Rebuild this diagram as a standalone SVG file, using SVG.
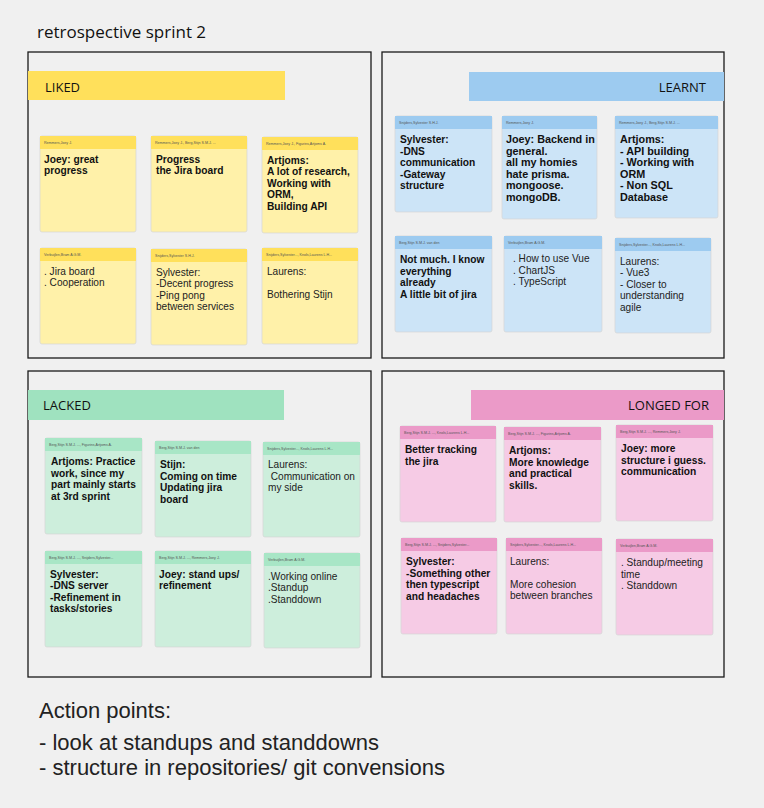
<svg xmlns="http://www.w3.org/2000/svg" width="764" height="808" viewBox="0 0 764 808">
<style>
.bg{fill:#f0f0f0}
.frame{fill:none;stroke:#1a1a1a;stroke-width:1.3}
.lbl{font-family:"Open Sans","Liberation Sans",sans-serif;font-size:13px;fill:#111}
.title{font-family:"Open Sans","Liberation Sans",sans-serif;font-size:17px;fill:#111}
.ap{font-family:"Liberation Sans",Arial,sans-serif;font-size:22px;fill:#222}
.nb{stroke:#d6d6d6;stroke-width:0.7}
.y .nb{fill:#fff1a9}.y .nh{fill:#ffe05b}
.b .nb{fill:#cce4f7}.b .nh{fill:#9dcbf0}
.g .nb{fill:#cdeedc}.g .nh{fill:#a8e6c6}
.p .nb{fill:#f6cbe5}.p .nh{fill:#eb9ac8}
.tiny{font-family:"Liberation Sans",Arial,sans-serif;font-size:3.6px;fill:#555}
.t{font-family:"Liberation Sans",Arial,sans-serif;font-size:10.2px;fill:#111;font-weight:bold}
.t.big{font-size:10.8px}
.r{font-family:"Liberation Sans",Arial,sans-serif;font-size:10.1px;fill:#222}
</style>
<rect class="bg" x="0" y="0" width="764" height="808"/>
<text class="title" x="37" y="38">retrospective sprint 2</text>

<g id="frame-liked">
<rect class="frame" x="28" y="52" width="343" height="306"/>
<rect x="28" y="71" width="257" height="29" fill="#ffe05b"/>
<text class="lbl" x="45" y="92">LIKED</text>
</g>
<g id="frame-learnt">
<rect class="frame" x="382" y="52" width="342" height="306"/>
<rect x="469" y="72" width="255" height="29" fill="#9dcbf0"/>
<text class="lbl" x="706" y="92" text-anchor="end">LEARNT</text>
</g>
<g id="frame-lacked">
<rect class="frame" x="28" y="371" width="343" height="306"/>
<rect x="28" y="390" width="256" height="30" fill="#9fe2bf"/>
<text class="lbl" x="43" y="410">LACKED</text>
</g>
<g id="frame-longed">
<rect class="frame" x="382" y="371" width="342" height="306"/>
<rect x="471" y="390" width="253" height="30" fill="#eb9ac8"/>
<text class="lbl" x="709" y="410" text-anchor="end">LONGED FOR</text>
</g>

<g id="connectors"></g>

<!-- LIKED -->
<g id="liked-1" class="y">
<rect class="nb" x="40" y="136" width="96" height="96" rx="2"/><rect class="nh" x="40" y="136" width="96" height="13"/>
<text class="tiny" x="44" y="144">Remmers,Joey J.</text>
<text class="t" x="44" y="162.5"><tspan x="44">Joey: great</tspan><tspan x="44" dy="11.5">progress</tspan></text>
</g>
<g id="liked-2" class="y">
<rect class="nb" x="151" y="136" width="96" height="96" rx="2"/><rect class="nh" x="151" y="136" width="96" height="13"/>
<text class="tiny" x="155" y="144">Remmers,Joey J.,  Berg,Stijn S.M.J. ...</text>
<text class="t" x="156" y="162.5"><tspan x="156">Progress</tspan><tspan x="156" dy="11.5">the Jira board</tspan></text>
</g>
<g id="liked-3" class="y">
<rect class="nb" x="262" y="137" width="96" height="96" rx="2"/><rect class="nh" x="262" y="137" width="96" height="13"/>
<text class="tiny" x="266" y="145">Remmers,Joey J.,  Figurins,Artjoms A.</text>
<text class="t" x="267" y="163.5"><tspan x="267">Artjoms:</tspan><tspan x="267" dy="11.5">A lot of research,</tspan><tspan x="267" dy="11.5">Working with</tspan><tspan x="267" dy="11.5">ORM,</tspan><tspan x="267" dy="11.5">Building API</tspan></text>
</g>
<g id="liked-4" class="y">
<rect class="nb" x="40" y="248" width="96" height="96" rx="2"/><rect class="nh" x="40" y="248" width="96" height="13"/>
<text class="tiny" x="44" y="256">Verbuijlen,Bram A.G.M.</text>
<text class="r" x="44" y="274.5"><tspan x="44">. Jira board</tspan><tspan x="44" dy="11.5">. Cooperation</tspan></text>
</g>
<g id="liked-5" class="y">
<rect class="nb" x="151" y="249" width="96" height="96" rx="2"/><rect class="nh" x="151" y="249" width="96" height="13"/>
<text class="tiny" x="155" y="257">Snijders,Sylvester S.H.J.</text>
<text class="r" x="156" y="275.5"><tspan x="156">Sylvester:</tspan><tspan x="156" dy="11.5">-Decent progress</tspan><tspan x="156" dy="11.5">-Ping pong</tspan><tspan x="156" dy="11.5">between services</tspan></text>
</g>
<g id="liked-6" class="y">
<rect class="nb" x="262" y="248" width="96" height="96" rx="2"/><rect class="nh" x="262" y="248" width="96" height="13"/>
<text class="tiny" x="266" y="256">Snijders,Sylvester...,  Knols,Laurens L.H...</text>
<text class="r" x="267" y="274.5"><tspan x="267">Laurens:</tspan><tspan x="267" dy="23">Bothering Stijn</tspan></text>
</g>

<!-- LEARNT -->
<g id="learnt-1" class="b">
<rect class="nb" x="395" y="116" width="97" height="96" rx="2"/><rect class="nh" x="395" y="116" width="97" height="13"/>
<text class="tiny" x="399" y="124">Snijders,Sylvester S.H.J.</text>
<text class="t" x="400" y="143"><tspan x="400">Sylvester:</tspan><tspan x="400" dy="11.5">-DNS</tspan><tspan x="400" dy="11.5">communication</tspan><tspan x="400" dy="11.5">-Gateway</tspan><tspan x="400" dy="11.5">structure</tspan></text>
</g>
<g id="learnt-2" class="b">
<rect class="nb" x="502" y="116" width="95" height="103" rx="2"/><rect class="nh" x="502" y="116" width="95" height="13"/>
<text class="tiny" x="506" y="124">Remmers,Joey J.</text>
<text class="t big" x="506" y="143"><tspan x="506">Joey: Backend in</tspan><tspan x="506" dy="11.5">general.</tspan><tspan x="506" dy="11.5">all my homies</tspan><tspan x="506" dy="11.5">hate prisma.</tspan><tspan x="506" dy="11.5">mongoose.</tspan><tspan x="506" dy="11.5">mongoDB.</tspan></text>
</g>
<g id="learnt-3" class="b">
<rect class="nb" x="615" y="116" width="103" height="102" rx="2"/><rect class="nh" x="615" y="116" width="103" height="13"/>
<text class="tiny" x="619" y="124">Remmers,Joey J.,  Berg,Stijn S.M.J. ...</text>
<text class="t big" x="620" y="143"><tspan x="620">Artjoms:</tspan><tspan x="620" dy="11.5">- API building</tspan><tspan x="620" dy="11.5">- Working with</tspan><tspan x="620" dy="11.5">ORM</tspan><tspan x="620" dy="11.5">- Non SQL</tspan><tspan x="620" dy="11.5">Database</tspan></text>
</g>
<g id="learnt-4" class="b">
<rect class="nb" x="395" y="236" width="97" height="96" rx="2"/><rect class="nh" x="395" y="236" width="97" height="13"/>
<text class="tiny" x="399" y="244">Berg,Stijn S.M.J. van den</text>
<text class="t" x="400" y="263"><tspan x="400">Not much. I know</tspan><tspan x="400" dy="11.5">everything</tspan><tspan x="400" dy="11.5">already</tspan><tspan x="400" dy="11.5">A little bit of jira</tspan></text>
</g>
<g id="learnt-5" class="b">
<rect class="nb" x="504" y="236" width="98" height="96" rx="2"/><rect class="nh" x="504" y="236" width="98" height="13"/>
<text class="tiny" x="508" y="244">Verbuijlen,Bram A.G.M.</text>
<text class="r" x="513" y="262"><tspan x="513">. How to use Vue</tspan><tspan x="513" dy="11.5">. ChartJS</tspan><tspan x="513" dy="11.5">. TypeScript</tspan></text>
</g>
<g id="learnt-6" class="b">
<rect class="nb" x="615" y="238" width="96" height="95" rx="2"/><rect class="nh" x="615" y="238" width="96" height="13"/>
<text class="tiny" x="619" y="246">Snijders,Sylvester...,  Knols,Laurens L.H...</text>
<text class="r" x="620" y="264.5"><tspan x="620">Laurens:</tspan><tspan x="620" dy="11.5">- Vue3</tspan><tspan x="620" dy="11.5">- Closer to</tspan><tspan x="620" dy="11.5">understanding</tspan><tspan x="620" dy="11.5">agile</tspan></text>
</g>

<!-- LACKED -->
<g id="lacked-1" class="g">
<rect class="nb" x="45" y="438" width="97" height="96" rx="2"/><rect class="nh" x="45" y="438" width="97" height="13"/>
<text class="tiny" x="49" y="446">Berg,Stijn S.M.J. ...,  Figurins,Artjoms A.</text>
<text class="t" x="51" y="465"><tspan x="51">Artjoms: Practice</tspan><tspan x="51" dy="11.5">work, since my</tspan><tspan x="51" dy="11.5">part mainly starts</tspan><tspan x="51" dy="11.5">at 3rd sprint</tspan></text>
</g>
<g id="lacked-2" class="g">
<rect class="nb" x="155" y="441" width="96" height="96" rx="2"/><rect class="nh" x="155" y="441" width="96" height="13"/>
<text class="tiny" x="159" y="449">Berg,Stijn S.M.J. van den</text>
<text class="t" x="160" y="468"><tspan x="160">Stijn:</tspan><tspan x="160" dy="11.5">Coming on time</tspan><tspan x="160" dy="11.5">Updating jira</tspan><tspan x="160" dy="11.5">board</tspan></text>
</g>
<g id="lacked-3" class="g">
<rect class="nb" x="263" y="442" width="97" height="95" rx="2"/><rect class="nh" x="263" y="442" width="97" height="13"/>
<text class="tiny" x="267" y="450">Snijders,Sylvester...,  Knols,Laurens L.H...</text>
<text class="r" x="268" y="468" xml:space="preserve"><tspan x="268">Laurens:</tspan><tspan x="268" dy="11.5"> Communication on</tspan><tspan x="268" dy="11.5">my side</tspan></text>
</g>
<g id="lacked-4" class="g">
<rect class="nb" x="45" y="551" width="97" height="96" rx="2"/><rect class="nh" x="45" y="551" width="97" height="13"/>
<text class="tiny" x="49" y="559">Berg,Stijn S.M.J. ...,  Snijders,Sylvester...</text>
<text class="t" x="50" y="577.5"><tspan x="50">Sylvester:</tspan><tspan x="50" dy="11.5">-DNS server</tspan><tspan x="50" dy="11.5">-Refinement in</tspan><tspan x="50" dy="11.5">tasks/stories</tspan></text>
</g>
<g id="lacked-5" class="g">
<rect class="nb" x="155" y="551" width="96" height="96" rx="2"/><rect class="nh" x="155" y="551" width="96" height="13"/>
<text class="tiny" x="159" y="559">Berg,Stijn S.M.J. ...,  Remmers,Joey J.</text>
<text class="t" x="159" y="577.5"><tspan x="159">Joey: stand ups/</tspan><tspan x="159" dy="11.5">refinement</tspan></text>
</g>
<g id="lacked-6" class="g">
<rect class="nb" x="264" y="553" width="96" height="95" rx="2"/><rect class="nh" x="264" y="553" width="96" height="13"/>
<text class="tiny" x="268" y="561">Verbuijlen,Bram A.G.M.</text>
<text class="r" x="268" y="579.5"><tspan x="268">.Working online</tspan><tspan x="268" dy="11.5">.Standup</tspan><tspan x="268" dy="11.5">.Standdown</tspan></text>
</g>

<!-- LONGED FOR -->
<g id="longed-1" class="p">
<rect class="nb" x="400" y="426" width="96" height="96" rx="2"/><rect class="nh" x="400" y="426" width="96" height="13"/>
<text class="tiny" x="404" y="434">Berg,Stijn S.M.J. ...,  Knols,Laurens L.H...</text>
<text class="t" x="405" y="453"><tspan x="405">Better tracking</tspan><tspan x="405" dy="11.5">the jira</tspan></text>
</g>
<g id="longed-2" class="p">
<rect class="nb" x="504" y="427" width="97" height="95" rx="2"/><rect class="nh" x="504" y="427" width="97" height="13"/>
<text class="tiny" x="508" y="435">Berg,Stijn S.M.J. ...,  Figurins,Artjoms A.</text>
<text class="t" x="509" y="454"><tspan x="509">Artjoms:</tspan><tspan x="509" dy="11.5">More knowledge</tspan><tspan x="509" dy="11.5">and practical</tspan><tspan x="509" dy="11.5">skills.</tspan></text>
</g>
<g id="longed-3" class="p">
<rect class="nb" x="616" y="425" width="97" height="96" rx="2"/><rect class="nh" x="616" y="425" width="97" height="13"/>
<text class="tiny" x="620" y="433">Berg,Stijn S.M.J. ...,  Remmers,Joey J.</text>
<text class="t" x="621" y="452"><tspan x="621">Joey: more</tspan><tspan x="621" dy="11.5">structure i guess.</tspan><tspan x="621" dy="11.5">communication</tspan></text>
</g>
<g id="longed-4" class="p">
<rect class="nb" x="401" y="538" width="96" height="96" rx="2"/><rect class="nh" x="401" y="538" width="96" height="13"/>
<text class="tiny" x="405" y="546">Berg,Stijn S.M.J. ...,  Snijders,Sylvester...</text>
<text class="t" x="406" y="565"><tspan x="406">Sylvester:</tspan><tspan x="406" dy="11.5">-Something other</tspan><tspan x="406" dy="11.5">then typescript</tspan><tspan x="406" dy="11.5">and headaches</tspan></text>
</g>
<g id="longed-5" class="p">
<rect class="nb" x="506" y="538" width="96" height="96" rx="2"/><rect class="nh" x="506" y="538" width="96" height="13"/>
<text class="tiny" x="510" y="546">Snijders,Sylvester...,  Knols,Laurens L.H...</text>
<text class="r" x="510" y="564.5"><tspan x="510">Laurens:</tspan><tspan x="510" dy="23">More cohesion</tspan><tspan x="510" dy="11.5">between branches</tspan></text>
</g>
<g id="longed-6" class="p">
<rect class="nb" x="616" y="539" width="97" height="96" rx="2"/><rect class="nh" x="616" y="539" width="97" height="13"/>
<text class="tiny" x="620" y="547">Verbuijlen,Bram A.G.M.</text>
<text class="r" x="621" y="566"><tspan x="621">. Standup/meeting</tspan><tspan x="621" dy="11.5">time</tspan><tspan x="621" dy="11.5">. Standdown</tspan></text>
</g>

<g id="action-points">
<text class="ap" x="39" y="718">Action points:</text>
<text class="ap" x="39" y="750">- look at standups and standdowns</text>
<text class="ap" x="39" y="775">- structure in repositories/ git convensions</text>
</g>
</svg>
